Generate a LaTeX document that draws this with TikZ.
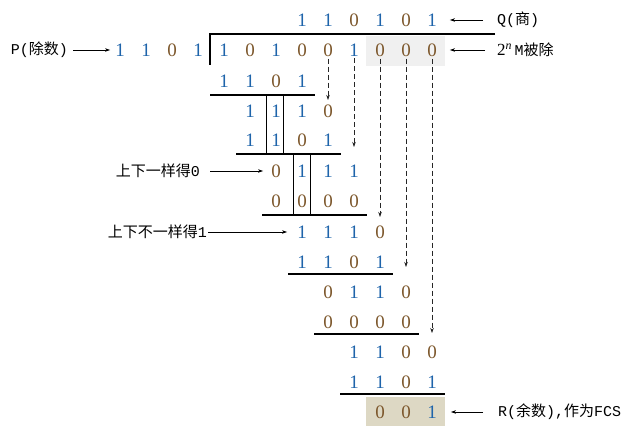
\documentclass[tikz,border=0pt]{standalone}
\usepackage{fontspec}
\setmainfont{Liberation Serif}
\setmonofont{Liberation Mono}
\newfontfamily\cjk{Noto Sans CJK SC}
\usetikzlibrary{arrows.meta}
\definecolor{bitone}{RGB}{30,100,170}
\definecolor{bitzero}{RGB}{125,88,45}
\definecolor{boxgray}{RGB}{240,240,240}
\definecolor{boxtan}{RGB}{221,216,196}
\newcommand{\bitcol}[1]{\ifnum#1=1 \textcolor{bitone}{1}\else\textcolor{bitzero}{0}\fi}
% one row of bits: name, first column, y, bits
\newcommand{\bitrow}[4]{%
  \foreach \b [count=\k from #2] in {#4}
    \node[bit] (#1c\k) at ({120+26*\k},#3) {\bitcol{\b}};}
\tikzset{
  bit/.style={inner sep=0pt, font=\fontsize{19}{20}\selectfont},
  lbl/.style={inner sep=0pt, font=\fontsize{15}{18}\selectfont\ttfamily},
  rule/.style={line width=2pt},
  tick/.style={line width=0.8pt},
  ptr/.style={-{Stealth[length=5pt,width=3.5pt]}, line width=0.6pt},
  drop/.style={ptr, black!85, dash pattern=on 5pt off 3pt},
}

\begin{document}
\begin{tikzpicture}[x=1pt, y=-1pt]
  \useasboundingbox (0,0) rectangle (643,435);
  % shaded boxes
  \fill[boxgray] (366,36) rectangle (445,66);
  \fill[boxtan] (366,397) rectangle (445,426);
  % division bar
  \draw[line width=2.2pt] (495,34) -- (210,34) -- (210,65);
  % bits
  \bitrow{r0}{7}{20}{1,1,0,1,0,1}
  \bitrow{p}{0}{50}{1,1,0,1}
  \bitrow{r1}{4}{50}{1,0,1,0,0,1,0,0,0}
  \bitrow{r2}{4}{81}{1,1,0,1}
  \bitrow{r3}{5}{111}{1,1,1,0}
  \bitrow{r4}{5}{140}{1,1,0,1}
  \bitrow{r5}{6}{171}{0,1,1,1}
  \bitrow{r6}{6}{201}{0,0,0,0}
  \bitrow{r7}{7}{232}{1,1,1,0}
  \bitrow{r8}{7}{262}{1,1,0,1}
  \bitrow{r9}{8}{292}{0,1,1,0}
  \bitrow{r10}{8}{322}{0,0,0,0}
  \bitrow{r11}{9}{352}{1,1,0,0}
  \bitrow{r12}{9}{382}{1,1,0,1}
  \bitrow{r13}{10}{412}{0,0,1}
  % subtraction rules
  \draw[rule] (210,95) -- (315,95);
  \draw[rule] (236,154) -- (341,154);
  \draw[rule] (262,215) -- (367,215);
  \draw[rule] (288,274) -- (393,274);
  \draw[rule] (314,334) -- (419,334);
  \draw[rule] (340,394) -- (445,394);
  % column marks
  \draw[tick] (266,95) -- (266,154);
  \draw[tick] (283,95) -- (283,154);
  \draw[tick] (293,154) -- (293,215);
  \draw[tick] (310,154) -- (310,215);
  % bits brought down
  \coordinate (t8) at (328,100);
  \coordinate (t9) at (354,147);
  \coordinate (t10) at (380,217);
  \coordinate (t11) at (406,267);
  \coordinate (t12) at (432,333);
  \foreach \c in {8,...,12}
    \draw[drop] ([yshift=-2pt]r1c\c.south) -- (t\c);
  % labels
  \node[lbl, anchor=west] (quot) at (497,20) {Q({\cjk 商})};
  \node[lbl, anchor=west] (dvd) at (497,50) {{\rmfamily\fontsize{17}{18}\selectfont 2\textsuperscript{\itshape n}}\,M{\cjk 被除}};
  \node[lbl, anchor=east] (divisor) at (68,50) {P({\cjk 除数})};
  \node[lbl, anchor=east] (same) at (200,171) {{\cjk 上下一样得}0};
  \node[lbl, anchor=east] (diff) at (207,232) {{\cjk 上下不一样得}1};
  \node[lbl, anchor=west] (rem) at (498,412) {R({\cjk 余数}),{\cjk 作为}FCS};
  \draw[ptr] ([xshift=-14pt]quot.west) -- ([xshift=13pt]r0c12.east);
  \draw[ptr] ([xshift=-12pt]dvd.west) -- ([xshift=13pt]r1c12.east);
  \draw[ptr] ([xshift=5pt]divisor.east) -- ([xshift=-5pt]pc0.west);
  \draw[ptr] ([xshift=10pt]same.east) -- ([xshift=-8pt]r5c6.west);
  \draw[ptr] ([xshift=1pt]diff.east) -- ([xshift=-10pt]r7c7.west);
  \draw[ptr] ([xshift=-15pt]rem.west) -- ([xshift=14pt]r13c12.east);
\end{tikzpicture}
\end{document}
